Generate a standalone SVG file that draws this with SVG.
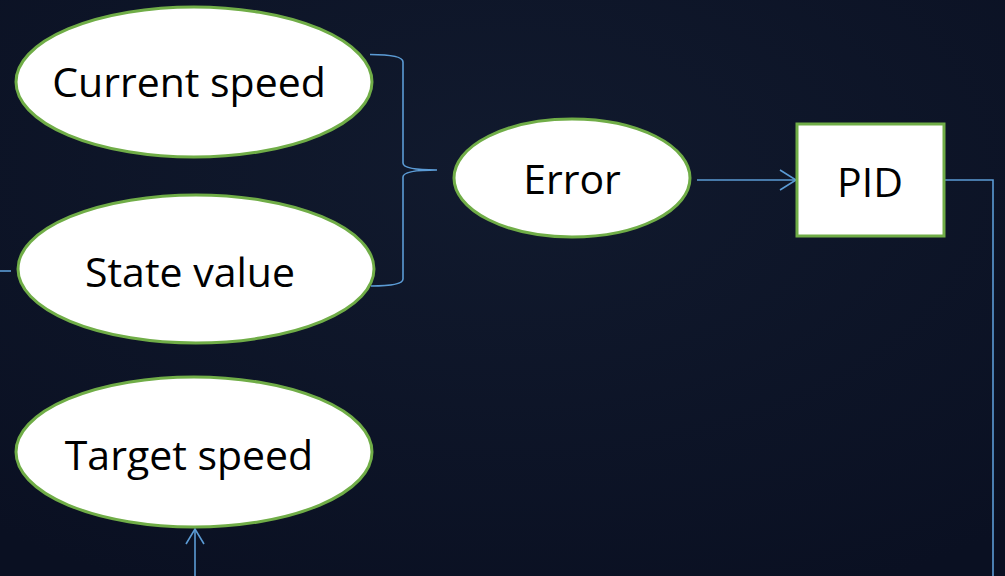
<svg xmlns="http://www.w3.org/2000/svg" width="1005" height="576" viewBox="0 0 1005 576">
  <defs>
    <style>
      .node { fill: #ffffff; stroke: #70ad47; stroke-width: 3; }
      .label { font-family: "Open Sans", "Liberation Sans", sans-serif; font-size: 41px; fill: #000000; text-anchor: middle; }
      .wire { fill: none; stroke: #5b9bd5; stroke-width: 1.6; }
    </style>
    <radialGradient id="bg" cx="50%" cy="30%" r="80%">
      <stop offset="0" stop-color="#111a2e"/>
      <stop offset="1" stop-color="#0a1022"/>
    </radialGradient>
  </defs>

  <rect width="1005" height="576" fill="url(#bg)"/>

  <!-- connectors -->
  <g id="connectors">
    <!-- brace joining the two inputs into Error -->
    <path class="wire" d="M370,54.5 Q403,54.5 403,62 L403,163 Q403,170 437,170 Q403,170 403,177 L403,279 Q403,286 371,286"/>
    <!-- Error to PID -->
    <path class="wire" d="M697,180 L796,180"/>
    <path class="wire" d="M780,170 L796,180 L780,190"/>
    <!-- PID output going down -->
    <path class="wire" d="M944,180 L993,180 L993,576"/>
    <!-- line entering State value from the left -->
    <path class="wire" d="M0,271 L11,271"/>
    <!-- feedback into Target speed -->
    <path class="wire" d="M195,576 L195,529"/>
    <path class="wire" d="M186,544 L195,529 L204,544"/>
  </g>

  <g id="current-speed">
    <ellipse class="node" cx="194" cy="82" rx="178" ry="75"/>
    <text class="label" x="189" y="97">Current speed</text>
  </g>

  <g id="state-value">
    <ellipse class="node" cx="196" cy="269" rx="178" ry="74"/>
    <text class="label" x="190" y="287">State value</text>
  </g>

  <g id="target-speed">
    <ellipse class="node" cx="194" cy="452" rx="178" ry="75"/>
    <text class="label" x="189" y="470">Target speed</text>
  </g>

  <g id="error">
    <ellipse class="node" cx="572" cy="178" rx="118" ry="59"/>
    <text class="label" x="572" y="194">Error</text>
  </g>

  <g id="pid">
    <rect class="node" x="797" y="124" width="147" height="112"/>
    <text class="label" x="870" y="197">PID</text>
  </g>
</svg>
